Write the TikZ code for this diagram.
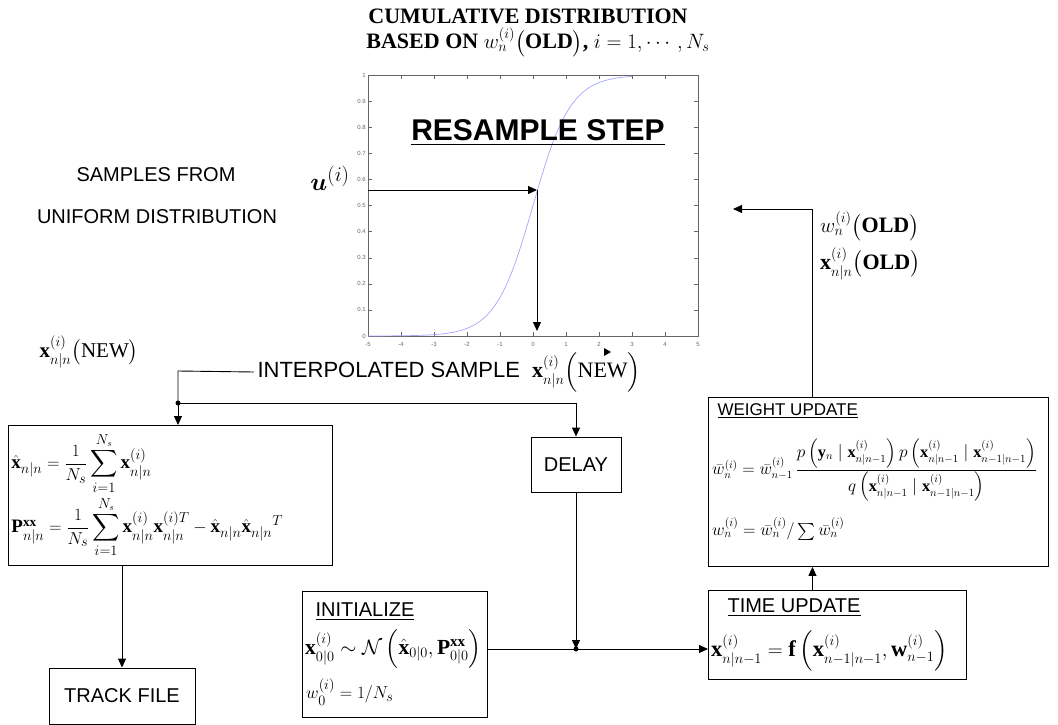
\documentclass[tikz,border=0pt]{standalone}
\usepackage{amsmath, amssymb}
\usepackage{fontspec}
\setmainfont{Liberation Serif}
\setsansfont{Liberation Sans}
\usetikzlibrary{arrows.meta, positioning, calc}

\tikzset{
  blk/.style={draw, line width=0.9pt, inner sep=4pt},
  lbl/.style={font=\sffamily\fontsize{20}{24}\selectfont},
  ttl/.style={font=\bfseries\fontsize{22}{26}\selectfont},
  eq/.style={font=\fontsize{19}{23}\selectfont, inner sep=2pt},
  flow/.style={line width=0.9pt, -{Triangle[length=9pt, width=8pt]}},
  link/.style={line width=0.9pt},
  axtick/.style={line width=0.4pt, black!60},
  axnum/.style={font=\sffamily\fontsize{6}{7}\selectfont, black!60, inner sep=1pt}
}

\begin{document}
\begin{tikzpicture}[x=1pt, y=-1pt]
  \useasboundingbox (0,0) rectangle (1058,725);

  % titel oben
  \node[ttl] (cum) at (528,16) {CUMULATIVE DISTRIBUTION};
  \node[ttl] (based) at (538,42) {BASED ON $w_n^{(i)}\big(\textbf{OLD}\big)$, $i=1,\cdots,N_s$};

  % achsen der verteilung
  \draw[axtick] (368,75) rectangle (698,336);
  \foreach \k in {-5,...,5} {
    \draw[axtick] ({533+33*\k},336) -- ++(0,-4);
    \draw[axtick] ({533+33*\k},75) -- ++(0,4);
    \node[axnum] at ({533+33*\k},344) {\k};
  }
  \foreach \k/\t in {0/0, 1/0.1, 2/0.2, 3/0.3, 4/0.4, 5/0.5, 6/0.6, 7/0.7, 8/0.8, 9/0.9, 10/1} {
    \draw[axtick] (368,{336-26.1*\k}) -- ++(4,0);
    \draw[axtick] (698,{336-26.1*\k}) -- ++(-4,0);
    \node[axnum, anchor=east] at (367,{336-26.1*\k}) {\t};
  }
  \draw[blue!35!white, line width=0.7pt] plot[domain=-5:3, samples=120, smooth]
    ({533+33*\x}, {336-261/(1+exp(-1.75*\x))});

  \node[font=\sffamily\bfseries\fontsize{30}{34}\selectfont] (res) at (538,133) {\underline{RESAMPLE STEP}};

  % gleichverteilte stichprobe
  \node[lbl] (samp) at (156,175) {SAMPLES FROM};
  \node[lbl] (unif) at (157,217) {UNIFORM DISTRIBUTION};
  \node[font=\fontsize{30}{32}\selectfont, inner sep=1pt] (u) at (330,178) {$\boldsymbol{u}^{(i)}$};
  \coordinate (uin) at (368,190);
  \coordinate (hit) at (537,190);
  \coordinate (xnew) at (537,331);
  \draw[flow] (uin) -- (hit);
  \draw[flow] (hit) -- (xnew);

  % interpolierte stichprobe
  \node[lbl, font=\sffamily\fontsize{22}{26}\selectfont, anchor=west] (ipl) at (254,372) {INTERPOLATED SAMPLE\ \ $\mathbf{x}_{n|n}^{(i)}\Big(\textrm{NEW}\Big)$};
  \fill (604,348) -- (611,352) -- (604,356) -- cycle;
  \node[eq, font=\fontsize{21}{25}\selectfont] (xnl) at (89,352) {$\mathbf{x}_{n|n}^{(i)}\big(\textrm{NEW}\big)$};

  % kaesten
  \node[blk, eq, anchor=north west, minimum width=324pt, minimum height=140pt, text width=318pt, align=left, inner sep=2pt] (est) at (8,425)
    {$\hat{\mathbf{x}}_{n|n} = \dfrac{1}{N_s}\displaystyle\sum_{i=1}^{N_s}\mathbf{x}_{n|n}^{(i)}$\\[2pt]
     $\mathbf{P}_{n|n}^{\mathbf{xx}} = \dfrac{1}{N_s}\displaystyle\sum_{i=1}^{N_s}\mathbf{x}_{n|n}^{(i)}\mathbf{x}_{n|n}^{(i)T} - \hat{\mathbf{x}}_{n|n}\hat{\mathbf{x}}_{n|n}{}^{T}$};
  \node[blk, lbl, minimum width=146pt, minimum height=56pt] (track) at (122,696) {TRACK FILE};
  \node[blk, lbl, minimum width=90pt, minimum height=55pt] (delay) at (576,464.5) {DELAY};

  \node[blk, anchor=north west, minimum width=185pt, minimum height=126pt] (init) at (302,591) {};
  \node[lbl, anchor=west] (initt) at (312,612) {\underline{INITIALIZE}};
  \node[eq, font=\fontsize{21.5}{25}\selectfont, anchor=west] (init1) at (303,649) {$\mathbf{x}_{0|0}^{(i)} \sim \mathcal{N}\left(\hat{\mathbf{x}}_{0|0}, \mathbf{P}_{0|0}^{\mathbf{xx}}\right)$};
  \node[eq, anchor=west] (init2) at (304,692) {$w_0^{(i)} = 1/N_s$};

  \node[blk, anchor=north west, minimum width=258pt, minimum height=89pt] (tup) at (708,590) {};
  \node[lbl, anchor=west] (tupt) at (724,608) {\underline{TIME UPDATE}};
  \node[eq, font=\fontsize{22.5}{26}\selectfont, anchor=west] (tup1) at (709,651) {$\mathbf{x}_{n|n-1}^{(i)} = \mathbf{f}\left(\mathbf{x}_{n-1|n-1}^{(i)}, \mathbf{w}_{n-1}^{(i)}\right)$};

  \node[blk, anchor=north west, minimum width=340pt, minimum height=169pt] (wgt) at (708,397) {};
  \node[lbl, font=\sffamily\fontsize{17}{20}\selectfont, anchor=west] (wgtt) at (714,411) {\underline{WEIGHT UPDATE}};
  \node[eq, font=\fontsize{16.3}{20}\selectfont, anchor=west] (wgt1) at (710,470) {$\bar{w}_n^{(i)} = \bar{w}_{n-1}^{(i)}\,
     \dfrac{p\left(\mathbf{y}_n \mid \mathbf{x}_{n|n-1}^{(i)}\right) p\left(\mathbf{x}_{n|n-1}^{(i)} \mid \mathbf{x}_{n-1|n-1}^{(i)}\right)}
           {q\left(\mathbf{x}_{n|n-1}^{(i)} \mid \mathbf{x}_{n-1|n-1}^{(i)}\right)}$};
  \node[eq, font=\fontsize{17}{20}\selectfont, anchor=west] (wgt2) at (710,529) {$w_n^{(i)} = \bar{w}_n^{(i)} / \sum \bar{w}_n^{(i)}$};

  \node[eq, font=\fontsize{22}{26}\selectfont, anchor=west] (wold) at (818,226) {$w_n^{(i)}\big(\textbf{OLD}\big)$};
  \node[eq, font=\fontsize{22}{26}\selectfont, anchor=west] (xold) at (818,264) {$\mathbf{x}_{n|n}^{(i)}\big(\textbf{OLD}\big)$};

  % verbindungen
  \coordinate (j1) at (178,371);
  \coordinate (j2) at (178,403);
  \coordinate (j4) at (576,649);
  \draw[link] (ipl.west) -- (j1) -- (j2);
  \draw[flow] (j2) -- (j2 |- est.north);
  \draw[link] (j2) -- (j2 -| delay.north);
  \draw[flow] (j2 -| delay.north) -- (delay.north);
  \fill (j2) circle (2.5pt);
  \draw[flow] (track.north |- est.south) -- (track.north);
  \draw[flow] (delay.south) -- (j4);
  \draw[flow] (init.east |- j4) -- (tup.west |- j4);
  \fill (j4) circle (2.5pt);
  \draw[flow] ([xshift=-25pt]tup.north) -- ([xshift=-25pt]tup.north |- wgt.south);
  \coordinate (ret) at (733,209);
  \draw[flow] ([xshift=-66pt]wgt.north) |- (ret);
\end{tikzpicture}
\end{document}
